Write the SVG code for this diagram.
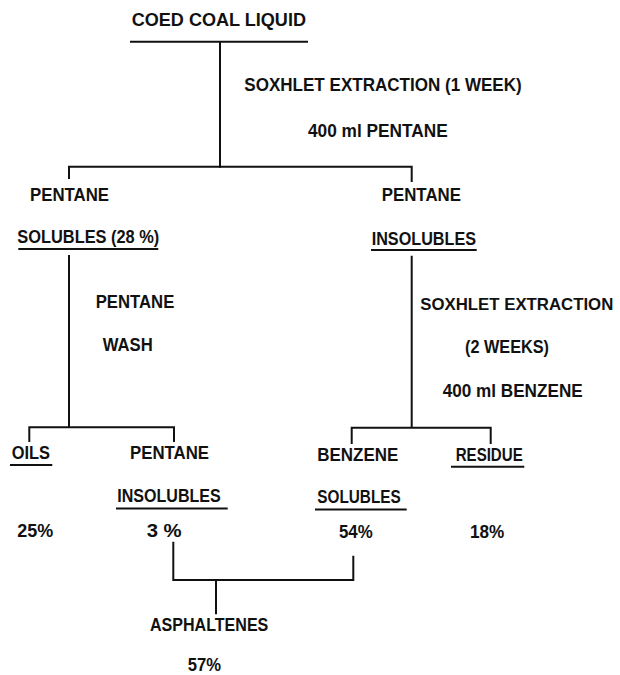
<svg xmlns="http://www.w3.org/2000/svg" width="620" height="675" viewBox="0 0 620 675">
<style>
text{font-family:"Liberation Sans",Arial,sans-serif;font-weight:bold;font-size:17.5px;fill:#111}
.ln{stroke:#111;stroke-width:2;fill:none;stroke-linecap:square}
.ul{stroke:#111;stroke-width:2;fill:none}
</style>
<rect width="620" height="675" fill="#fff"/>
<g id="connectors">
<path class="ln" d="M131,41.7H307M220,41.7V166.7"/>
<path class="ln" d="M69,178V166.7H411.7V181"/>
<path class="ln" d="M69,256V427.3M29.3,441V427.3H174V441"/>
<path class="ln" d="M411.7,256.7V427.7M351.7,443V427.7H490.7V443"/>
<path class="ln" d="M173.3,542.7V580H353.3V556.7M216,580V613.3"/>
</g>
<g id="coed">
<text x="131.7" y="26" textLength="174.3" lengthAdjust="spacingAndGlyphs">COED COAL LIQUID</text>
</g>
<g id="step1">
<text x="244.3" y="90.7" textLength="277.4" lengthAdjust="spacingAndGlyphs">SOXHLET EXTRACTION (1 WEEK)</text>
<text x="308" y="136.7" textLength="139.7" lengthAdjust="spacingAndGlyphs">400 ml PENTANE</text>
</g>
<g id="pentane-solubles">
<text x="30" y="200.7" textLength="79" lengthAdjust="spacingAndGlyphs">PENTANE</text>
<text x="17.3" y="243.3" textLength="142" lengthAdjust="spacingAndGlyphs">SOLUBLES (28 %)</text>
<line class="ul" x1="18.3" y1="249" x2="158.3" y2="249"/>
</g>
<g id="pentane-insolubles">
<text x="381.7" y="201" textLength="79.3" lengthAdjust="spacingAndGlyphs">PENTANE</text>
<text x="371.7" y="245" textLength="104.3" lengthAdjust="spacingAndGlyphs">INSOLUBLES</text>
<line class="ul" x1="371" y1="250" x2="476.7" y2="250"/>
</g>
<g id="step-wash">
<text x="95.7" y="307.7" textLength="78.6" lengthAdjust="spacingAndGlyphs">PENTANE</text>
<text x="102.7" y="351" textLength="50" lengthAdjust="spacingAndGlyphs">WASH</text>
</g>
<g id="step2">
<text x="420.3" y="310" style="font-size:16.5px" textLength="193" lengthAdjust="spacingAndGlyphs">SOXHLET EXTRACTION</text>
<text x="465" y="352.7" textLength="84" lengthAdjust="spacingAndGlyphs">(2 WEEKS)</text>
<text x="442.7" y="396.7" textLength="140" lengthAdjust="spacingAndGlyphs">400 ml BENZENE</text>
</g>
<g id="oils">
<text x="11.7" y="459" textLength="38.3" lengthAdjust="spacingAndGlyphs">OILS</text>
<line class="ul" x1="10" y1="465" x2="52.3" y2="465"/>
<text x="17.3" y="536.7" textLength="36" lengthAdjust="spacingAndGlyphs">25%</text>
</g>
<g id="pentane-insolubles-2">
<text x="130" y="459" textLength="79" lengthAdjust="spacingAndGlyphs">PENTANE</text>
<text x="117.3" y="502.3" textLength="103.4" lengthAdjust="spacingAndGlyphs">INSOLUBLES</text>
<line class="ul" x1="116" y1="508.5" x2="227.7" y2="508.5"/>
<text x="146.7" y="537" textLength="35" lengthAdjust="spacingAndGlyphs">3  %</text>
</g>
<g id="benzene-solubles">
<text x="317.3" y="461" textLength="81" lengthAdjust="spacingAndGlyphs">BENZENE</text>
<text x="317.3" y="503.3" textLength="83.4" lengthAdjust="spacingAndGlyphs">SOLUBLES</text>
<line class="ul" x1="315" y1="509.5" x2="406.7" y2="509.5"/>
<text x="339" y="538.3" textLength="33.7" lengthAdjust="spacingAndGlyphs">54%</text>
</g>
<g id="residue">
<text x="455.7" y="461" textLength="67" lengthAdjust="spacingAndGlyphs">RESIDUE</text>
<line class="ul" x1="451" y1="466.7" x2="524.3" y2="466.7"/>
<text x="470" y="538.3" textLength="34.3" lengthAdjust="spacingAndGlyphs">18%</text>
</g>
<g id="asphaltenes">
<text x="150" y="631" textLength="118.3" lengthAdjust="spacingAndGlyphs">ASPHALTENES</text>
<text x="187.7" y="670.5" textLength="33.3" lengthAdjust="spacingAndGlyphs">57%</text>
</g>
</svg>
